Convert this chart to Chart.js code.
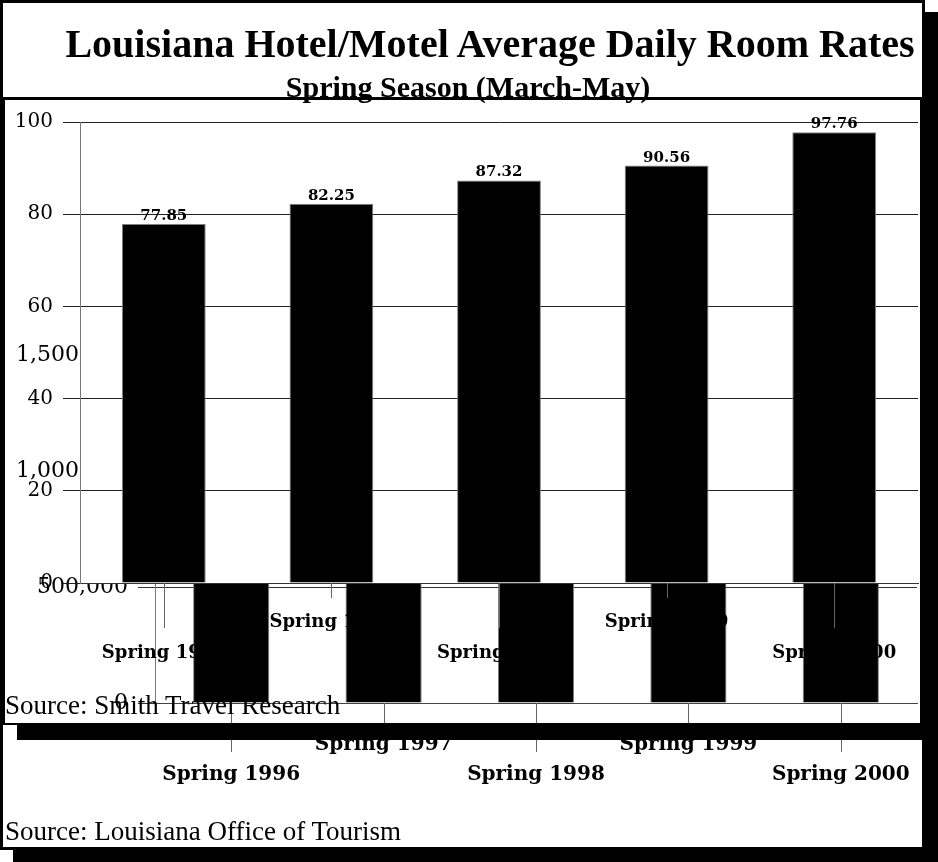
<!DOCTYPE html>
<html>
<head>
<meta charset="utf-8">
<script src="https://cdn.jsdelivr.net/npm/chart.js@4.4.0/dist/chart.umd.min.js"></script>
<style>
  html, body { margin: 0; padding: 0; background: #fff; }
  body { width: 938px; height: 862px; position: relative; overflow: hidden; }
  .box { position: absolute; box-sizing: border-box; border: 3px solid #000; }
  .txt { position: absolute; white-space: nowrap; line-height: 1; color: #000; font-family: "Liberation Serif", "Times New Roman", serif; }
  canvas { position: absolute; display: block; }
</style>
</head>
<body>
<div class="box" id="outerBox" style="left:0;top:0;width:925px;height:850px;background:#fff;box-shadow:13px 12px 0 #000;"></div>
<canvas id="visitorChart" width="923" height="848" style="left:0;top:0;"></canvas>
<div class="txt" style="left:0;top:24px;width:980px;text-align:center;font-size:40px;font-weight:bold;">Louisiana Hotel/Motel Average Daily Room Rates</div>
<div class="txt" style="left:0;top:72px;width:936px;text-align:center;font-size:30px;font-weight:bold;">Spring Season (March-May)</div>
<div class="txt" style="left:5px;top:818px;font-size:27px;">Source: Louisiana Office of Tourism</div>
<div class="box" id="frontBox" style="left:3px;top:97px;width:919px;height:628px;border-width:3px 2px 2px 2px;box-shadow:14px 15px 0 #000;"></div>
<canvas id="rateChart" width="919" height="628" style="left:3px;top:97px;"></canvas>
<div class="txt" style="left:5px;top:692px;font-size:27px;">Source: Smith Travel Research</div>

<script>
const seasons = ["Spring 1996", "Spring 1997", "Spring 1998", "Spring 1999", "Spring 2000"];
const roomRates = [77.85, 82.25, 87.32, 90.56, 97.76];
const rateTicks = [0, 20, 40, 60, 80, 100];
// hidden behind the front chart, only the lower part of the bars shows
const visitorCounts = [1120000, 1180000, 1230000, 1290000, 1350000];
const visitorTicks = [0, 500000, 1000000, 1500000];

// tick marks under the x axis, longer ones for the labels on the lower row
const staggerTicks = {
    id: "staggerTicks",
    afterDraw(chart, args, opts) {
        const x = chart.scales.x;
        const ctx = chart.ctx;
        ctx.save();
        ctx.strokeStyle = opts.color;
        ctx.lineWidth = 1;
        x.ticks.forEach((t, i) => {
            const px = Math.round(x.getPixelForTick(i)) + 0.5;
            const len = i % 2 === 0 ? opts.long : opts.short;
            ctx.beginPath();
            ctx.moveTo(px, x.top);
            ctx.lineTo(px, x.top + len);
            ctx.stroke();
        });
        ctx.restore();
    }
};

const plotBackground = {
    id: "plotBackground",
    beforeDraw(chart) {
        const a = chart.chartArea;
        chart.ctx.save();
        chart.ctx.fillStyle = "#fff";
        chart.ctx.fillRect(a.left, a.top, a.right - a.left, a.bottom - a.top);
        chart.ctx.restore();
    }
};

const barLabels = {
    id: "barLabels",
    afterDatasetsDraw(chart) {
        const ctx = chart.ctx;
        const meta = chart.getDatasetMeta(0);
        ctx.save();
        ctx.font = 'bold 15px "DejaVu Serif"';
        ctx.textAlign = "center";
        ctx.textBaseline = "alphabetic";
        ctx.fillStyle = "#000";
        meta.data.forEach((bar, i) => {
            ctx.fillText(roomRates[i].toFixed(2), bar.x, bar.y - 4);
        });
        ctx.restore();
    }
};

const staggerLabel = (v, i) => (i % 2 === 0 ? ["", seasons[i]] : seasons[i]);

new Chart(document.getElementById("visitorChart"), {
    type: "bar",
    data: {
        labels: seasons,
        datasets: [{
            data: visitorCounts,
            backgroundColor: "#000",
            borderColor: "#808080",
            borderWidth: 1,
            barPercentage: 0.5,
            categoryPercentage: 1
        }]
    },
    options: {
        responsive: false,
        animation: false,
        layout: { padding: { top: 355, right: 6, left: 0, bottom: 0 } },
        plugins: {
            legend: { display: false },
            tooltip: { enabled: false },
            staggerTicks: { color: "#666", long: 49, short: 39 }
        },
        scales: {
            x: {
                afterFit(scale) { scale.height = 145; },
                grid: { color: "transparent", tickLength: 27 },
                border: { display: true, color: "#444", width: 1 },
                ticks: {
                    color: "#000",
                    padding: 0,
                    autoSkip: false,
                    maxRotation: 0,
                    font: { family: "DejaVu Serif", size: 20, weight: "bold", lineHeight: 1.5 },
                    callback: staggerLabel
                }
            },
            y: {
                min: 0,
                max: 1500000,
                afterFit(scale) { scale.width = 155; },
                afterBuildTicks(scale) { scale.ticks = visitorTicks.map(v => ({ value: v })); },
                grid: { color: "#333", tickLength: 17, lineWidth: 1 },
                border: { display: true, color: "#777", width: 1 },
                ticks: {
                    color: "#000",
                    padding: 10,
                    font: { family: "DejaVu Serif", size: 22 },
                    callback: v => v.toLocaleString("en-US")
                }
            }
        }
    },
    plugins: [staggerTicks]
});

new Chart(document.getElementById("rateChart"), {
    type: "bar",
    data: {
        labels: seasons,
        datasets: [{
            data: roomRates,
            backgroundColor: "#000",
            borderColor: "#808080",
            borderWidth: 1,
            barPercentage: 0.5,
            categoryPercentage: 1
        }]
    },
    options: {
        responsive: false,
        animation: false,
        layout: { padding: { top: 25, right: 4, left: 0, bottom: 0 } },
        plugins: {
            legend: { display: false },
            tooltip: { enabled: false },
            staggerTicks: { color: "#666", long: 45, short: 15 }
        },
        scales: {
            x: {
                afterFit(scale) { scale.height = 142; },
                grid: { color: "transparent", tickLength: 24 },
                border: { display: true, color: "#333", width: 1 },
                ticks: {
                    color: "#000",
                    padding: 0,
                    autoSkip: false,
                    maxRotation: 0,
                    font: { family: "DejaVu Serif", size: 18, weight: "bold", lineHeight: 1.72 },
                    callback: staggerLabel
                }
            },
            y: {
                min: 0,
                max: 100,
                afterFit(scale) { scale.width = 77; },
                afterBuildTicks(scale) { scale.ticks = rateTicks.map(v => ({ value: v })); },
                grid: { color: "#222", tickLength: 17, lineWidth: 1 },
                border: { display: true, color: "#777", width: 1 },
                ticks: {
                    color: "#000",
                    padding: 10,
                    font: { family: "DejaVu Serif", size: 20 }
                }
            }
        }
    },
    plugins: [plotBackground, barLabels, staggerTicks]
});
</script>
</body>
</html>
